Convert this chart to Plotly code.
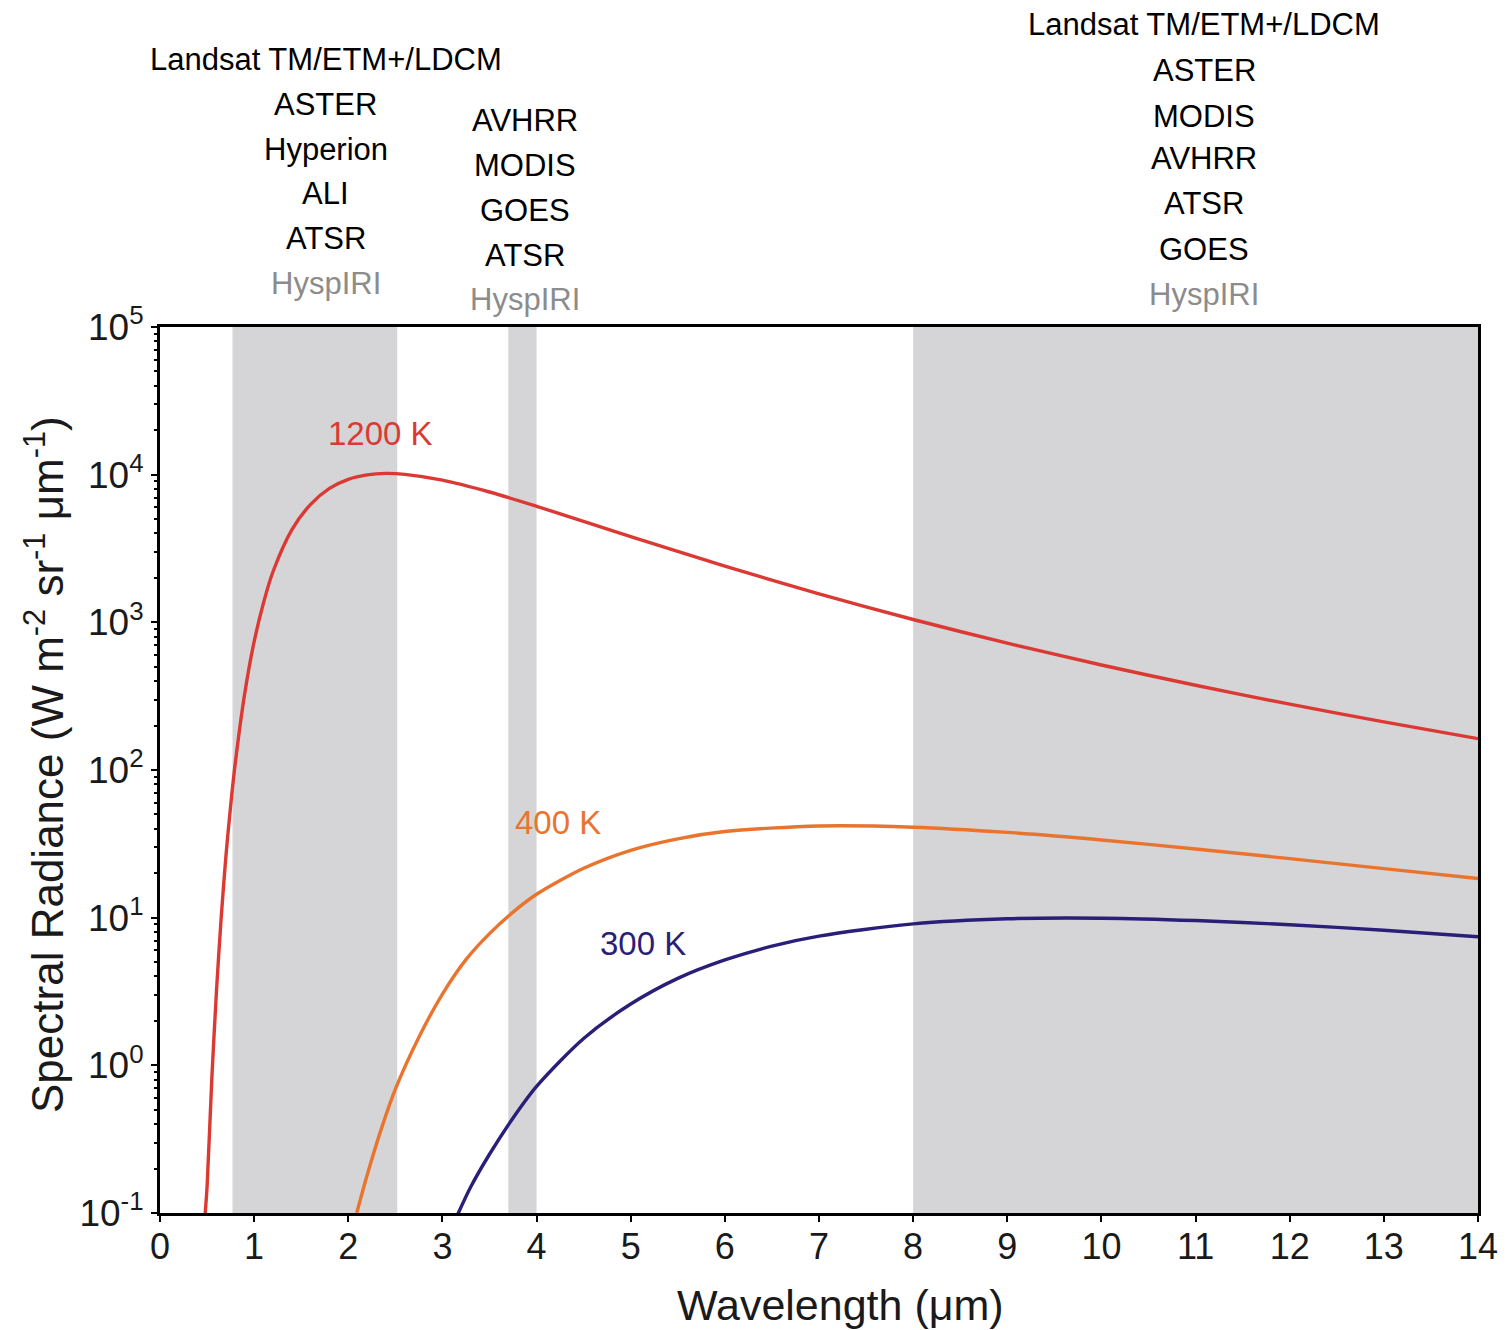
import plotly.graph_objects as go

# ---- data ----
wl_1200 = [0.48, 0.50, 0.55, 0.60, 0.65, 0.70, 0.75, 0.80, 0.90, 1.00, 1.10, 1.20, 1.40, 1.60,
           1.80, 2.00, 2.20, 2.40, 2.60, 3.00, 3.50, 4.00, 5.00, 6.00, 7.00, 8.00, 9.00, 10.0,
           11.0, 12.0, 13.0, 14.0]
rad_1200 = [0.10, 0.15, 0.80, 3.2, 10.0, 26, 57, 112, 330, 740, 1360, 2200, 4230, 6300,
            8080, 9300, 9970, 10200, 10050, 9180, 7630, 6110, 3810, 2400, 1560, 1045, 723, 514,
            375, 279, 212, 163]

wl_400 = [2.09, 2.20, 2.35, 2.50, 2.75, 3.00, 3.25, 3.50, 3.75, 4.00, 4.50, 5.00, 5.50, 6.00,
          7.00, 8.00, 9.00, 10.0, 11.0, 12.0, 13.0, 14.0]
rad_400 = [0.10, 0.18, 0.37, 0.69, 1.55, 3.04, 5.2, 7.8, 10.9, 14.4, 21.6, 28.6, 34.2, 38.3,
           41.8, 41.0, 37.8, 33.6, 29.2, 25.1, 21.5, 18.4]

wl_300 = [3.15, 3.30, 3.50, 3.75, 4.00, 4.50, 5.00, 5.50, 6.00, 6.50, 7.00, 8.00, 9.00, 10.0,
          11.0, 12.0, 13.0, 14.0]
rad_300 = [0.094, 0.15, 0.25, 0.44, 0.72, 1.52, 2.60, 3.88, 5.17, 6.42, 7.50, 9.08, 9.83, 9.92,
           9.56, 8.96, 8.22, 7.43]

band_start = [0.77, 3.70, 8.00]
band_end = [2.52, 4.00, 14.0]

x_ticks = list(range(0, 15))
y_tickvals = [1e-1, 1e0, 1e1, 1e2, 1e3, 1e4, 1e5]
y_ticktext = ["10<sup>-1</sup>", "10<sup>0</sup>", "10<sup>1</sup>", "10<sup>2</sup>",
              "10<sup>3</sup>", "10<sup>4</sup>", "10<sup>5</sup>"]

group_left = ["Landsat TM/ETM+/LDCM", "ASTER", "Hyperion", "ALI", "ATSR", "HyspIRI"]
group_mid = ["AVHRR", "MODIS", "GOES", "ATSR", "HyspIRI"]
group_right = ["Landsat TM/ETM+/LDCM", "ASTER", "MODIS", "AVHRR", "ATSR", "GOES", "HyspIRI"]

FONT = "Liberation Sans, Arial, sans-serif"
RED = "#db3a34"
ORANGE = "#e9742e"
NAVY = "#2a1f78"
BAND = "#d5d5d8"
GREY_TXT = "#8c8c8c"

fig = go.Figure()

for s, e in zip(band_start, band_end):
    fig.add_shape(type="rect", xref="x", yref="paper", x0=s, x1=e, y0=0, y1=1,
                  fillcolor=BAND, line_width=0, layer="below")

for wl, rad, col in [(wl_1200, rad_1200, RED), (wl_400, rad_400, ORANGE), (wl_300, rad_300, NAVY)]:
    fig.add_trace(go.Scatter(x=wl, y=rad, mode="lines",
                             line=dict(color=col, width=3.4, shape="spline", smoothing=0.8),
                             hoverinfo="skip", showlegend=False))

# plot area geometry (pixels in the reference) used for placing labels
PLOT_LEFT, PLOT_RIGHT = 160, 1478
PLOT_TOP, PLOT_BOTTOM = 327, 1213
PLOT_H = PLOT_BOTTOM - PLOT_TOP
PLOT_W = PLOT_RIGHT - PLOT_LEFT


def py(pix):
    return (PLOT_BOTTOM - pix) / PLOT_H


def px(pix):
    return (pix - PLOT_LEFT) / PLOT_W


annotations = []
for names, xc, ys in [(group_left, 1.763, [60, 105, 150, 193, 238, 284]),
                      (group_mid, 3.877, [120, 165, 211, 255, 299]),
                      (group_right, 11.09, [25, 70, 116, 158, 204, 249, 294])]:
    for name, yp in zip(names, ys):
        annotations.append(dict(x=xc, y=py(yp), xref="x", yref="paper", text=name,
                                showarrow=False, xanchor="center", yanchor="middle",
                                font=dict(family=FONT, size=31,
                                          color=GREY_TXT if name == "HyspIRI" else "black")))

annotations += [
    dict(x=2.34, y=py(433), xref="x", yref="paper", text="1200 K", showarrow=False,
         xanchor="center", yanchor="middle", font=dict(family=FONT, size=33, color=RED)),
    dict(x=4.23, y=py(822), xref="x", yref="paper", text="400 K", showarrow=False,
         xanchor="center", yanchor="middle", font=dict(family=FONT, size=33, color=ORANGE)),
    dict(x=5.13, y=py(943), xref="x", yref="paper", text="300 K", showarrow=False,
         xanchor="center", yanchor="middle", font=dict(family=FONT, size=33, color=NAVY)),
    dict(x=px(840), y=py(1305), xref="paper", yref="paper",
         text="Wavelength (\u03bcm)", showarrow=False, xanchor="center", yanchor="middle",
         font=dict(family=FONT, size=43, color="#1a1a1a")),
    dict(x=px(44), y=py(765), xref="paper", yref="paper", textangle=-90,
         text="Spectral Radiance (W m<sup>-2</sup> sr<sup>-1</sup> \u03bcm<sup>-1</sup>)",
         showarrow=False, xanchor="center", yanchor="middle",
         font=dict(family=FONT, size=44, color="#1a1a1a")),
]

minor_vals = [m * 10 ** k for k in range(-1, 5) for m in range(2, 10)]

# the page body adds an 8px offset; compensate so the plot lands where the reference has it
OFF = 8
fig.update_layout(
    width=1509, height=1330,
    margin=dict(l=PLOT_LEFT - OFF, r=1509 - PLOT_RIGHT + OFF, t=PLOT_TOP - OFF,
                b=1330 - PLOT_BOTTOM + OFF, autoexpand=False),
    paper_bgcolor="white", plot_bgcolor="white",
    annotations=annotations,
    font=dict(family=FONT, color="#1a1a1a"),
    xaxis=dict(range=[0, 14], tickmode="array", tickvals=x_ticks,
               ticks="outside", ticklen=6, tickwidth=2, tickcolor="black",
               showline=True, linewidth=3, linecolor="black", mirror=True,
               showgrid=False, zeroline=False, ticklabelstandoff=-6,
               tickfont=dict(family=FONT, size=36, color="#1a1a1a")),
    yaxis=dict(type="log", range=[-1, 5], tickmode="array", tickvals=y_tickvals,
               ticktext=y_ticktext, ticks="outside", ticklen=6, tickwidth=2, tickcolor="black",
               showline=True, linewidth=3, linecolor="black", mirror=True,
               showgrid=False, zeroline=False,
               minor=dict(tickmode="array", tickvals=minor_vals, ticks="outside",
                          ticklen=3, tickwidth=1.5, tickcolor="black", showgrid=False),
               tickfont=dict(family=FONT, size=37, color="#1a1a1a")),
)

fig.write_html("out.html")
